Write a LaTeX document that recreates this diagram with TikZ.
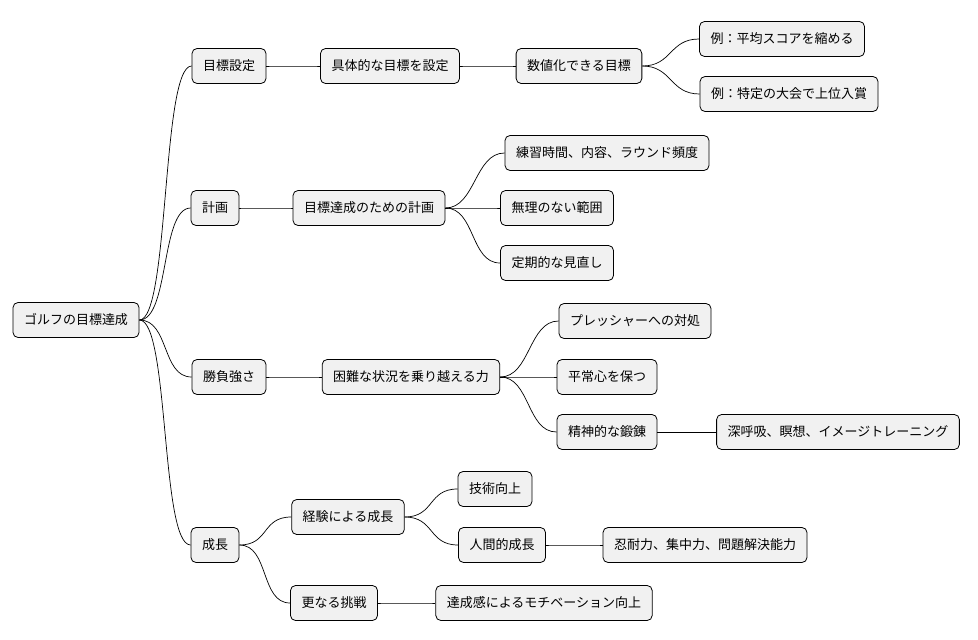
\documentclass[tikz,border=0pt]{standalone}
\usepackage{fontspec}
\setmainfont{Noto Sans CJK JP}
\definecolor{boxfill}{HTML}{F1F1F1}
\begin{document}
\begin{tikzpicture}[x=1pt,y=-1pt,
  topic/.style={draw=black,fill=boxfill,rounded corners=5pt,minimum height=35pt,
    inner xsep=11pt,font=\fontsize{13}{15}\selectfont,line width=0.8pt},
  link/.style={line width=0.7pt}]
\useasboundingbox (0,0) rectangle (978,640);

\node[topic] (root) at (76,320) {ゴルフの目標達成};

\node[topic] (goal) at (229,66) {目標設定};
\node[topic] (goalA) at (390,66) {具体的な目標を設定};
\node[topic] (goalB) at (579,66) {数値化できる目標};
\node[topic] (goalB1) at (782,39) {例：平均スコアを縮める};
\node[topic] (goalB2) at (789,94) {例：特定の大会で上位入賞};

\node[topic] (plan) at (215,208) {計画};
\node[topic] (planA) at (369,208) {目標達成のための計画};
\node[topic] (planA1) at (607,153) {練習時間、内容、ラウンド頻度};
\node[topic] (planA2) at (557,208) {無理のない範囲};
\node[topic] (planA3) at (557,263) {定期的な見直し};

\node[topic] (clutch) at (229,377) {勝負強さ};
\node[topic] (clutchA) at (411,377) {困難な状況を乗り越える力};
\node[topic] (clutchA1) at (635,321) {プレッシャーへの対処};
\node[topic] (clutchA2) at (607,377) {平常心を保つ};
\node[topic] (clutchA3) at (607,432) {精神的な鍛錬};
\node[topic] (clutchA3a) at (838,432) {深呼吸、瞑想、イメージトレーニング};

\node[topic] (grow) at (215,545) {成長};
\node[topic] (growA) at (348,517) {経験による成長};
\node[topic] (growA1) at (495,489) {技術向上};
\node[topic] (growA2) at (502,545) {人間的成長};
\node[topic] (growA2a) at (705,545) {忍耐力、集中力、問題解決能力};
\node[topic] (growB) at (334,603) {更なる挑戦};
\node[topic] (growB1) at (544,603) {達成感によるモチベーション向上};

\foreach \p/\c in {root/goal,root/plan,root/clutch,root/grow,
  goal/goalA,goalA/goalB,goalB/goalB1,goalB/goalB2,
  plan/planA,planA/planA1,planA/planA2,planA/planA3,
  clutch/clutchA,clutchA/clutchA1,clutchA/clutchA2,clutchA/clutchA3,clutchA3/clutchA3a,
  grow/growA,grow/growB,growA/growA1,growA/growA2,growA2/growA2a,growB/growB1}
  \draw[link] (\p.east) .. controls +(30,0) and +(-30,0) .. (\c.west);
\end{tikzpicture}
\end{document}
